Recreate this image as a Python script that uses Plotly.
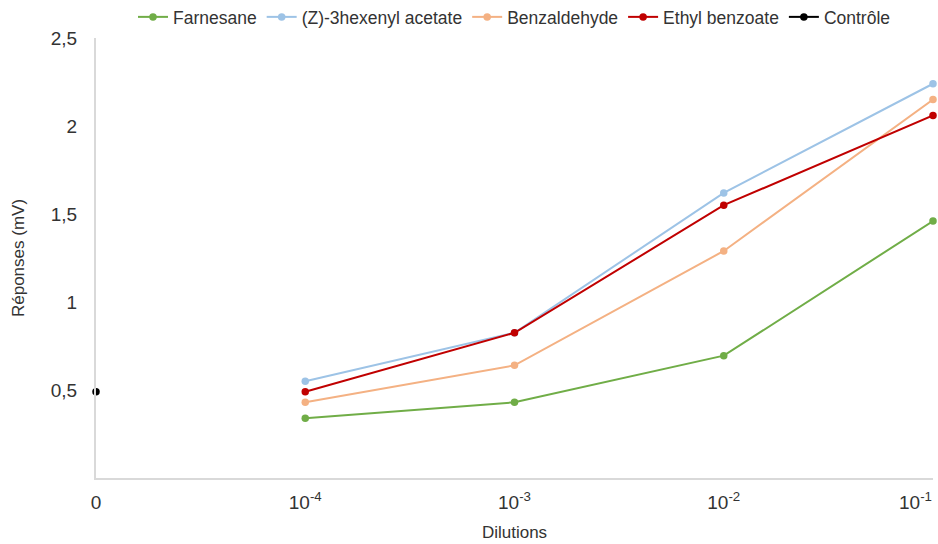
import plotly.graph_objects as go

dilution_labels = ["0", "10<sup>-4</sup>", "10<sup>-3</sup>", "10<sup>-2</sup>", "10<sup>-1</sup>"]
dilution_pos = [1, 2, 3, 4]

farnesane = [0.34, 0.43, 0.695, 1.46]
hexenyl = [0.55, 0.825, 1.62, 2.24]
benzaldehyde = [0.43, 0.64, 1.29, 2.15]
ethyl_benzoate = [0.49, 0.825, 1.55, 2.06]
controle_x = [0]
controle = [0.49]

y_ticks = [0.5, 1, 1.5, 2, 2.5]
y_tick_labels = ["0,5", "1", "1,5", "2", "2,5"]

series = [
    ("Farnesane", dilution_pos, farnesane, "#70AD47"),
    ("(Z)-3hexenyl acetate", dilution_pos, hexenyl, "#9DC3E6"),
    ("Benzaldehyde", dilution_pos, benzaldehyde, "#F4B183"),
    ("Ethyl benzoate", dilution_pos, ethyl_benzoate, "#C00000"),
    ("Contrôle", controle_x, controle, "#000000"),
]

fig = go.Figure()
for name, xs, ys, color in series:
    fig.add_trace(go.Scatter(
        x=xs, y=ys, name=name, mode="lines+markers",
        line=dict(color=color, width=2),
        marker=dict(color=color, size=7.5),
        cliponaxis=False,
    ))

font_family = "Liberation Sans, Arial, sans-serif"
text_color = "#333333"

# last x tick label is right-aligned at the plot edge (as in the reference)
fig.add_annotation(
    x=len(dilution_labels) - 1, y=0, xref="x", yref="y",
    text=dilution_labels[-1], showarrow=False,
    xanchor="right", yanchor="top", xshift=1, yshift=-9,
    font=dict(size=19, color=text_color, family=font_family),
)

fig.update_layout(
    width=938, height=544,
    margin=dict(l=96, r=5, t=38, b=66, autoexpand=False),
    paper_bgcolor="white", plot_bgcolor="white",
    font=dict(family=font_family, color=text_color, size=16),
    showlegend=True,
    legend=dict(orientation="h", x=0.5, xanchor="center", xref="paper",
                y=1 - 17 / 544, yanchor="middle", yref="container",
                font=dict(size=17.5, color=text_color), itemwidth=30,
                traceorder="normal", bgcolor="rgba(0,0,0,0)"),
    xaxis=dict(
        range=[0, 4], tickmode="array",
        tickvals=list(range(len(dilution_labels) - 1)), ticktext=dilution_labels[:-1],
        showgrid=False, zeroline=False, showline=True, linecolor="#D9D9D9", linewidth=2,
        ticks="", ticklabelstandoff=6,
        tickfont=dict(size=19, color=text_color),
        title=dict(text="Dilutions", font=dict(size=17, color=text_color), standoff=14),
    ),
    yaxis=dict(
        range=[0, 2.5], tickmode="array", tickvals=y_ticks, ticktext=y_tick_labels,
        showgrid=False, zeroline=False, showline=True, linecolor="#D9D9D9", linewidth=2,
        ticks="", ticklabelstandoff=13,
        tickfont=dict(size=19, color=text_color),
        title=dict(text="Réponses (mV)", font=dict(size=17, color=text_color), standoff=22),
    ),
)

fig.write_html("out.html", config={"displayModeBar": False},
               post_script="document.body.style.margin='0px';document.body.style.overflow='hidden';")
